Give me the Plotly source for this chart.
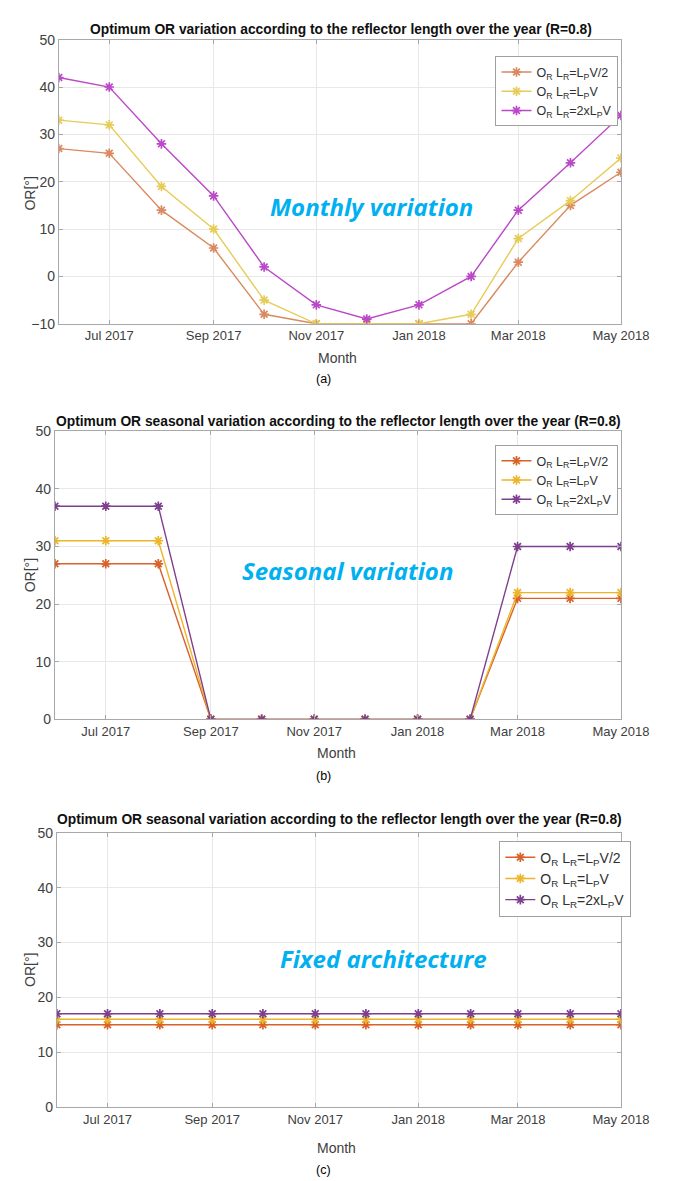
import plotly.graph_objects as go

W, H = 686, 1181

months = ["2017-06-01", "2017-07-01", "2017-08-01", "2017-09-01", "2017-10-01", "2017-11-01",
          "2017-12-01", "2018-01-01", "2018-02-01", "2018-03-01", "2018-04-01", "2018-05-01"]

series_names = ["O<sub>R</sub> L<sub>R</sub>=L<sub>P</sub>V/2",
                "O<sub>R</sub> L<sub>R</sub>=L<sub>P</sub>V",
                "O<sub>R</sub> L<sub>R</sub>=2xL<sub>P</sub>V"]

# (a) monthly variation
a_half = [27, 26, 14, 6, -8, -10, -10, -10, -10, 3, 15, 22]
a_one = [33, 32, 19, 10, -5, -10, -10, -10, -8, 8, 16, 25]
a_two = [42, 40, 28, 17, 2, -6, -9, -6, 0, 14, 24, 34]

# (b) seasonal variation
b_half = [27, 27, 27, 0, 0, 0, 0, 0, 0, 21, 21, 21]
b_one = [31, 31, 31, 0, 0, 0, 0, 0, 0, 22, 22, 22]
b_two = [37, 37, 37, 0, 0, 0, 0, 0, 0, 30, 30, 30]

# (c) fixed architecture
c_half = [15] * 12
c_one = [16] * 12
c_two = [17] * 12

titles = ["Optimum OR variation according to the reflector length over the year (R=0.8)",
          "Optimum OR seasonal variation according to the reflector length over the year (R=0.8)",
          "Optimum OR seasonal variation according to the reflector length over the year (R=0.8)"]
notes = ["Monthly variation", "Seasonal variation", "Fixed architecture"]
labels = ["(a)", "(b)", "(c)"]

colors_a = ["#d98a60", "#e6cc58", "#bb48c8"]
colors_bc = ["#d9622b", "#edb52a", "#7e3f8f"]

FONT = "Liberation Sans, Arial, sans-serif"

def py(px):
    return 1 - px / H

def pxx(px):
    return px / W

X1 = 640
panels = [
    dict(x0=53, top=24, bot=312, yr=[-10, 50], data=[a_half, a_one, a_two], colors=colors_a,
         title_y=14, month_y=347, lab_y=368, note=(380, 193), leg=(509, 41), legfs=12.5),
    dict(x0=49, top=421, bot=713, yr=[0, 50], data=[b_half, b_one, b_two], colors=colors_bc,
         title_y=411, month_y=747, lab_y=770, note=(354, 562), leg=(509, 435), legfs=12.5),
    dict(x0=51, top=828, bot=1106, yr=[0, 50], data=[c_half, c_one, c_two], colors=colors_bc,
         title_y=815, month_y=1148, lab_y=1170, note=(392, 955), leg=(513, 836), legfs=14),
]

fig = go.Figure()
annotations = []
layout = {}
for i, p in enumerate(panels):
    n = "" if i == 0 else str(i + 1)
    xa, ya = "x" + n, "y" + n
    leg = "legend" + n
    for k in range(3):
        fig.add_trace(go.Scatter(
            x=months, y=p["data"][k], xaxis=xa, yaxis=ya, name=series_names[k],
            mode="lines+markers", legend=leg,
            line=dict(color=p["colors"][k], width=1.4),
            marker=dict(symbol="asterisk-open", size=8,
                        line=dict(color=p["colors"][k], width=1.7)),
        ))
    layout["xaxis" + n] = dict(
        domain=[pxx(p["x0"]), pxx(X1)], anchor=ya, type="date",
        range=["2017-06-01", "2018-05-01"], tick0="2017-07-01", dtick="M2",
        tickformat="%b %Y", showgrid=True, gridcolor="#e8e8e8", gridwidth=1,
        showline=True, linecolor="#a8a8a8", mirror="ticks", ticks="inside",
        ticklen=4, tickcolor="#a8a8a8", zeroline=False,
        tickfont=dict(family=FONT, size=13, color="#404040"),
    )
    layout["yaxis" + n] = dict(
        domain=[py(p["bot"]), py(p["top"])], anchor=xa, range=p["yr"], dtick=10,
        showgrid=True, gridcolor="#e8e8e8", gridwidth=1,
        showline=True, linecolor="#a8a8a8", mirror="ticks", ticks="inside",
        ticklen=4, tickcolor="#a8a8a8", zeroline=False,
        tickfont=dict(family=FONT, size=14, color="#404040"),
    )
    layout[leg] = dict(
        x=pxx(p["leg"][0]), y=py(p["leg"][1]), xanchor="left", yanchor="top",
        bgcolor="white", bordercolor="#a0a0a0", borderwidth=1,
        font=dict(family=FONT, size=p["legfs"], color="#303030"),
        itemwidth=30, tracegroupgap=0,
    )
    cx = (p["x0"] + X1) / 2
    annotations += [
        dict(text="<b>" + titles[i] + "</b>", x=pxx(cx + 1), y=py(p["title_y"]),
             xref="paper", yref="paper", showarrow=False, xanchor="center", yanchor="middle",
             font=dict(family=FONT, size=13.8, color="#101010")),
        dict(text="Month", x=pxx(cx - 2), y=py(p["month_y"]), xref="paper", yref="paper",
             showarrow=False, xanchor="center", yanchor="middle",
             font=dict(family=FONT, size=14, color="#404040")),
        dict(text=labels[i], x=pxx(329), y=py(p["lab_y"]), xref="paper", yref="paper",
             showarrow=False, xanchor="center", yanchor="middle",
             font=dict(family=FONT, size=12.5, color="#000000")),
        dict(text="OR[°]", x=pxx(23), y=py((p["top"] + p["bot"]) / 2 + (12 if i == 0 else 0)),
             xref="paper", yref="paper", textangle=-90,
             showarrow=False, xanchor="center", yanchor="middle",
             font=dict(family=FONT, size=14, color="#404040")),
        dict(text="<b><i>" + notes[i] + "</i></b>", x=pxx(p["note"][0]), y=py(p["note"][1]),
             xref="paper", yref="paper", showarrow=False, xanchor="center", yanchor="middle",
             font=dict(family="Open Sans, sans-serif", size=24, color="#00b0f0")),
    ]

fig.update_layout(
    width=W, height=H, margin=dict(l=0, r=0, t=0, b=0),
    paper_bgcolor="white", plot_bgcolor="white",
    annotations=annotations, showlegend=True, **layout,
)
fig.write_html("out.html")
